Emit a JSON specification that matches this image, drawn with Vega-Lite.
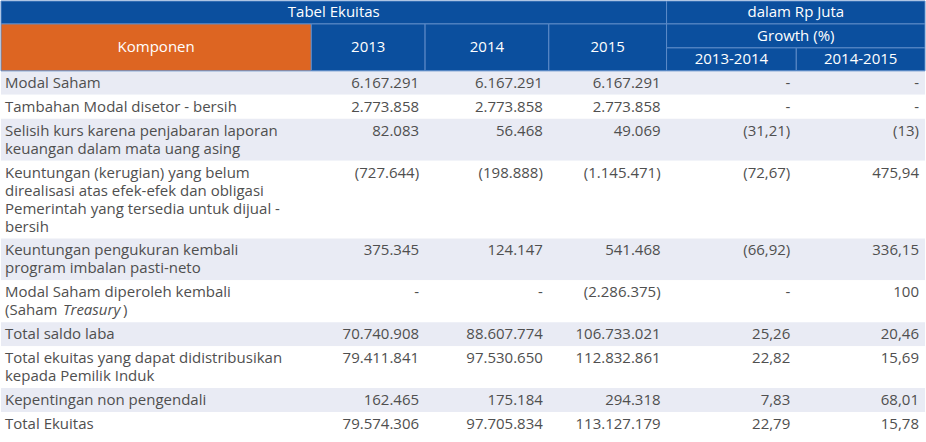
{
  "$schema": "https://vega.github.io/schema/vega-lite/v6.json",
  "width": 926,
  "height": 442,
  "autosize": {"type": "fit", "contains": "padding"},
  "padding": 0,
  "background": "#ffffff",
  "view": {"stroke": null},
  "config": {"font": "Open Sans"},
  "datasets": {
    "hdr": [
      {"label": "Tabel Ekuitas", "x0": 0, "x1": 667, "y0": 0, "y1": 23, "kind": "blue"},
      {"label": "dalam Rp Juta", "x0": 667, "x1": 926, "y0": 0, "y1": 23, "kind": "blue"},
      {"label": "Komponen", "x0": 0, "x1": 311, "y0": 23, "y1": 70, "kind": "orange"},
      {"label": "2013", "x0": 311, "x1": 425, "y0": 23, "y1": 70, "kind": "blue"},
      {"label": "2014", "x0": 425, "x1": 549, "y0": 23, "y1": 70, "kind": "blue"},
      {"label": "2015", "x0": 549, "x1": 667, "y0": 23, "y1": 70, "kind": "blue"},
      {"label": "Growth (%)", "x0": 667, "x1": 926, "y0": 23, "y1": 47, "kind": "blue"},
      {"label": "2013-2014", "x0": 667, "x1": 797, "y0": 47, "y1": 70, "kind": "blue"},
      {"label": "2014-2015", "x0": 797, "x1": 926, "y0": 47, "y1": 70, "kind": "blue"}
    ],
    "cols": [
      {"key": "v2013", "right": 425},
      {"key": "v2014", "right": 549},
      {"key": "v2015", "right": 667},
      {"key": "g1314", "right": 797},
      {"key": "g1415", "right": 926}
    ],
    "rows": [
      {"no": 1, "lines": 1, "stripe": "odd", "label": "Modal Saham", "v2013": "6.167.291", "v2014": "6.167.291", "v2015": "6.167.291", "g1314": "-", "g1415": "-"},
      {"no": 2, "lines": 1, "stripe": "even", "label": "Tambahan Modal disetor - bersih", "v2013": "2.773.858", "v2014": "2.773.858", "v2015": "2.773.858", "g1314": "-", "g1415": "-"},
      {"no": 3, "lines": 2, "stripe": "odd", "label": "Selisih kurs karena penjabaran laporan\nkeuangan dalam mata uang asing", "v2013": "82.083", "v2014": "56.468", "v2015": "49.069", "g1314": "(31,21)", "g1415": "(13)"},
      {"no": 4, "lines": 4, "stripe": "even", "label": "Keuntungan (kerugian) yang belum\ndirealisasi atas efek-efek dan obligasi\nPemerintah yang tersedia untuk dijual -\nbersih", "v2013": "(727.644)", "v2014": "(198.888)", "v2015": "(1.145.471)", "g1314": "(72,67)", "g1415": "475,94"},
      {"no": 5, "lines": 2, "stripe": "odd", "label": "Keuntungan pengukuran kembali\nprogram imbalan pasti-neto", "v2013": "375.345", "v2014": "124.147", "v2015": "541.468", "g1314": "(66,92)", "g1415": "336,15"},
      {"no": 6, "lines": 2, "stripe": "even", "label": "Modal Saham diperoleh kembali\n(Saham", "italic": "Treasury", "after": ")", "v2013": "-", "v2014": "-", "v2015": "(2.286.375)", "g1314": "-", "g1415": "100"},
      {"no": 7, "lines": 1, "stripe": "odd", "label": "Total saldo laba", "v2013": "70.740.908", "v2014": "88.607.774", "v2015": "106.733.021", "g1314": "25,26", "g1415": "20,46"},
      {"no": 8, "lines": 2, "stripe": "even", "label": "Total ekuitas yang dapat didistribusikan\nkepada Pemilik Induk", "v2013": "79.411.841", "v2014": "97.530.650", "v2015": "112.832.861", "g1314": "22,82", "g1415": "15,69"},
      {"no": 9, "lines": 1, "stripe": "odd", "label": "Kepentingan non pengendali", "v2013": "162.465", "v2014": "175.184", "v2015": "294.318", "g1314": "7,83", "g1415": "68,01"},
      {"no": 10, "lines": 1, "stripe": "even", "label": "Total Ekuitas", "v2013": "79.574.306", "v2014": "97.705.834", "v2015": "113.127.179", "g1314": "22,79", "g1415": "15,78"}
    ]
  },
  "layer": [
    {
      "data": {"name": "rows"},
      "transform": [
        {"calculate": "datum.lines * 18 + 6", "as": "h"},
        {"window": [{"op": "sum", "field": "h", "as": "cum"}], "sort": [{"field": "no"}], "frame": [null, 0]},
        {"calculate": "70 + datum.cum - datum.h", "as": "top"},
        {"calculate": "70 + datum.cum", "as": "bottom"},
        {"calculate": "0", "as": "left"},
        {"calculate": "926", "as": "right"}
      ],
      "mark": {"type": "rect", "strokeWidth": 0},
      "encoding": {
        "x": {"field": "left", "type": "quantitative", "scale": {"domain": [0, 926], "nice": false, "zero": false}, "axis": null},
        "x2": {"field": "right"},
        "y": {"field": "top", "type": "quantitative", "scale": {"domain": [0, 442], "nice": false, "zero": false, "reverse": true}, "axis": null},
        "y2": {"field": "bottom"},
        "color": {"field": "stripe", "type": "nominal", "scale": {"domain": ["odd", "even"], "range": ["#e9ebf4", "#ffffff"]}, "legend": null}
      }
    },
    {
      "data": {"name": "hdr"},
      "mark": {"type": "rect", "stroke": "#5d8bc8", "strokeWidth": 1},
      "encoding": {
        "x": {"field": "x0", "type": "quantitative"},
        "x2": {"field": "x1"},
        "y": {"field": "y0", "type": "quantitative"},
        "y2": {"field": "y1"},
        "fill": {"field": "kind", "type": "nominal", "scale": {"domain": ["blue", "orange"], "range": ["#0b4f9e", "#dd6522"]}, "legend": null}
      }
    },
    {
      "data": {"name": "hdr"},
      "transform": [
        {"calculate": "(datum.x0 + datum.x1) / 2", "as": "xc"},
        {"calculate": "(datum.y0 + datum.y1) / 2", "as": "yc"}
      ],
      "mark": {"type": "text", "align": "center", "baseline": "middle", "fontSize": 15, "color": "#ffffff", "font": "Open Sans"},
      "encoding": {
        "x": {"field": "xc", "type": "quantitative"},
        "y": {"field": "yc", "type": "quantitative"},
        "text": {"field": "label"}
      }
    },
    {
      "data": {"name": "rows"},
      "transform": [
        {"calculate": "datum.lines * 18 + 6", "as": "h"},
        {"window": [{"op": "sum", "field": "h", "as": "cum"}], "sort": [{"field": "no"}], "frame": [null, 0]},
        {"calculate": "70 + datum.cum - datum.h + 12", "as": "ty"},
        {"calculate": "4", "as": "tx"}
      ],
      "mark": {"type": "text", "align": "left", "baseline": "middle", "lineBreak": "\n", "lineHeight": 18, "fontSize": 15, "color": "#4f4f4f", "font": "Open Sans"},
      "encoding": {
        "x": {"field": "tx", "type": "quantitative"},
        "y": {"field": "ty", "type": "quantitative"},
        "text": {"field": "label"}
      }
    },
    {
      "data": {"name": "rows"},
      "transform": [
        {"calculate": "datum.lines * 18 + 6", "as": "h"},
        {"window": [{"op": "sum", "field": "h", "as": "cum"}], "sort": [{"field": "no"}], "frame": [null, 0]},
        {"calculate": "70 + datum.cum - datum.h + 12 + 18", "as": "ty"},
        {"filter": "datum.italic"},
        {"calculate": "4", "as": "tx"}
      ],
      "mark": {"type": "text", "align": "left", "baseline": "middle", "fontSize": 15, "fontStyle": "italic", "color": "#4f4f4f", "font": "Open Sans", "dx": 58},
      "encoding": {
        "x": {"field": "tx", "type": "quantitative"},
        "y": {"field": "ty", "type": "quantitative"},
        "text": {"field": "italic"}
      }
    },
    {
      "data": {"name": "rows"},
      "transform": [
        {"calculate": "datum.lines * 18 + 6", "as": "h"},
        {"window": [{"op": "sum", "field": "h", "as": "cum"}], "sort": [{"field": "no"}], "frame": [null, 0]},
        {"calculate": "70 + datum.cum - datum.h + 12 + 18", "as": "ty"},
        {"filter": "datum.after"},
        {"calculate": "4", "as": "tx"}
      ],
      "mark": {"type": "text", "align": "left", "baseline": "middle", "fontSize": 15, "color": "#4f4f4f", "font": "Open Sans", "dx": 118},
      "encoding": {
        "x": {"field": "tx", "type": "quantitative"},
        "y": {"field": "ty", "type": "quantitative"},
        "text": {"field": "after"}
      }
    },
    {
      "data": {"name": "rows"},
      "transform": [
        {"calculate": "datum.lines * 18 + 6", "as": "h"},
        {"window": [{"op": "sum", "field": "h", "as": "cum"}], "sort": [{"field": "no"}], "frame": [null, 0]},
        {"calculate": "70 + datum.cum - datum.h + 12", "as": "ty"},
        {"fold": ["v2013", "v2014", "v2015", "g1314", "g1415"], "as": ["key", "val"]},
        {"lookup": "key", "from": {"data": {"name": "cols"}, "key": "key", "fields": ["right"]}}
      ],
      "mark": {"type": "text", "align": "right", "baseline": "middle", "fontSize": 15, "color": "#4f4f4f", "font": "Open Sans", "dx": -6},
      "encoding": {
        "x": {"field": "right", "type": "quantitative"},
        "y": {"field": "ty", "type": "quantitative"},
        "text": {"field": "val"}
      }
    }
  ]
}
